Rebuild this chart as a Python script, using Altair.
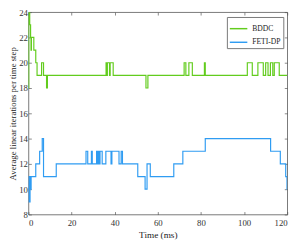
import altair as alt
import pandas as pd

# ---- data (step changes) ----
series_names = ["BDDC", "FETI-DP"]
series_colors = ["#62cc1d", "#2f9cf2"]

bddc_t = [0, 0.15, 0.6, 1.0, 1.2, 1.4, 2.5, 3.4, 4.0, 6.1, 7.0, 8.4, 8.8,
          36.0, 36.3, 36.6, 37.6, 37.9, 39.3, 54.5, 55.4,
          72.2, 73.0, 74.4, 76.0, 81.6, 82.0,
          101.5, 103.8, 106.4, 108.9, 110.0, 111.1, 112.2, 113.3, 114.0, 116.3, 120]
bddc_v = [18, 24, 23, 22, 21, 22, 21, 20, 19, 20, 19, 18, 19,
          20, 19, 20, 19, 20, 19, 18, 19,
          20, 19, 20, 19, 20, 19,
          20, 19, 20, 19, 20, 19, 20, 19, 20, 19, 19]

feti_t = [0, 0.25, 0.5, 0.75, 1.0, 1.25, 3.4, 5.2, 6.4, 7.0, 12.9,
          26.7, 27.5, 29.2, 29.6, 31.6, 32.0, 32.4, 32.8, 33.2, 34.2,
          35.9, 38.3, 38.7, 42.0, 43.0, 43.6, 50.7, 54.1, 55.0, 56.5,
          67.4, 71.6, 82.0, 112.3, 116.8, 119.3, 119.9, 120]
feti_v = [9, 11, 9, 11, 10, 11, 12, 13, 14, 11, 12,
          13, 12, 13, 12, 13, 12, 13, 12, 13, 12,
          13, 12, 13, 12, 13, 12, 11, 10, 12, 11,
          12, 13, 14, 13, 12, 11, 10, 10]

x_ticks = [0, 20, 40, 60, 80, 100, 120]
y_ticks = [8, 10, 12, 14, 16, 18, 20, 22, 24]

df = pd.concat([
    pd.DataFrame({"t": bddc_t, "value": bddc_v, "series": series_names[0]}),
    pd.DataFrame({"t": feti_t, "value": feti_v, "series": series_names[1]}),
], ignore_index=True)

FONT = "Liberation Serif, Times New Roman, serif"
x_scale = alt.Scale(domain=[0, 120], nice=False, zero=False)
y_scale = alt.Scale(domain=[8, 24], nice=False, zero=False)

axis_common = dict(offset=-3, tickSize=3, domain=False, grid=False,
                   tickColor="#555", tickWidth=0.7,
                   labelFont=FONT, labelFontSize=9, labelColor="#333",
                   titleFont=FONT, titleFontSize=9, titleFontWeight="normal",
                   titleColor="#222")

lines = alt.Chart(df).mark_line(interpolate="step-after", strokeWidth=1.2, clip=True).encode(
    x=alt.X("t:Q", scale=x_scale, title="Time (ms)",
            axis=alt.Axis(orient="bottom", values=x_ticks, labelPadding=4,
                          titlePadding=3, titleFontSize=9.5, **{k: v for k, v in axis_common.items() if k != "titleFontSize"})),
    y=alt.Y("value:Q", scale=y_scale, title="Average linear iterations per time step",
            axis=alt.Axis(orient="left", values=y_ticks, labelPadding=1,
                          titlePadding=1, **axis_common)),
    color=alt.Color("series:N",
                    scale=alt.Scale(domain=series_names, range=series_colors),
                    legend=alt.Legend(title=None, orient="none", legendX=204, legendY=5,
                                      fillColor="white", strokeColor="#777",
                                      padding=2, rowPadding=0,
                                      symbolType="stroke", symbolSize=324,
                                      symbolStrokeWidth=1.5,
                                      labelFont=FONT, labelFontSize=7.8,
                                      labelColor="#222", labelOffset=4)),
)

frame = alt.Chart(df).mark_line(strokeOpacity=0).encode(
    x=alt.X("t:Q", scale=x_scale, title=None,
            axis=alt.Axis(orient="top", values=x_ticks, labels=False, **axis_common)),
    y=alt.Y("value:Q", scale=y_scale, title=None,
            axis=alt.Axis(orient="right", values=y_ticks, labels=False, **axis_common)),
)

chart = alt.layer(lines, frame).resolve_axis(
    x="independent", y="independent"
).properties(
    width=266, height=208,
    padding={"left": 21, "top": 1, "right": 8, "bottom": 24},
    autosize="none",
).configure_view(
    stroke="#555", strokeWidth=0.8
)

chart.save("out.html", embed_options={"renderer": "svg", "actions": False})
